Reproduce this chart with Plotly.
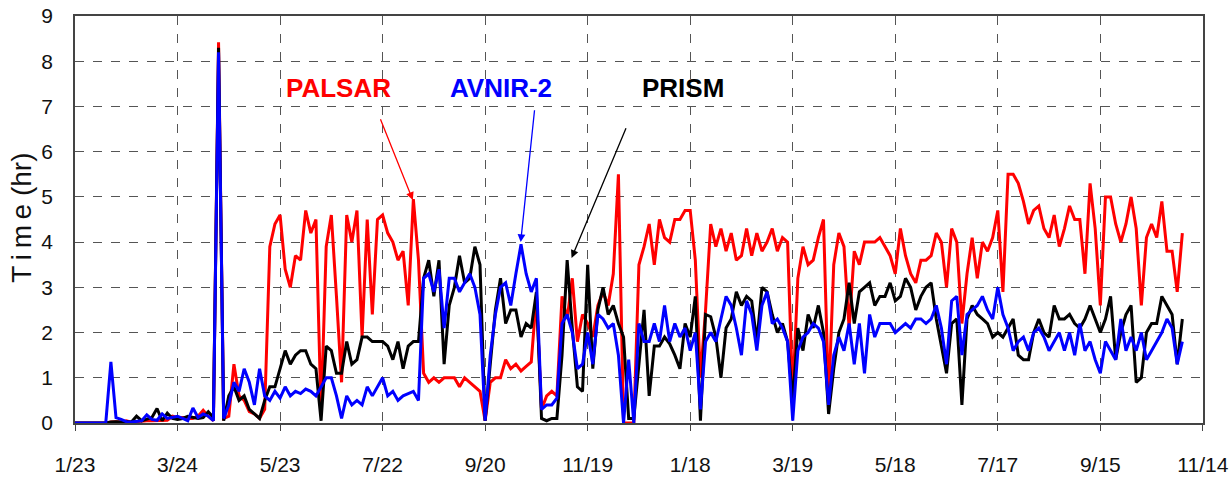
import pandas as pd
import plotly.graph_objects as go

# ---------------- data ----------------
start_date = pd.Timestamp("2006-01-23")
day_offsets = list(range(0, 649, 3))          # sampling days since 1/23/2006
dates = [start_date + pd.Timedelta(days=d) for d in day_offsets]

palsar = [
    0, 0, 0, 0, 0, 0, 0, 0.02, 0.03, 0.02,
    0.05, 0.02, 0.03, 0.05, 0.05, 0.05, 0.05, 0.05, 0.06, 0.15,
    0.12, 0.12, 0.1, 0.1, 0.15, 0.28, 0.15, 0.05, 8.42, 0.1,
    0.15, 1.3, 0.6, 0.5, 0.25, 0.2, 0.1, 0.3, 3.9, 4.4,
    4.6, 3.4, 3.0, 3.7, 3.6, 4.7, 4.2, 4.5, 0.2, 3.9,
    4.6, 2.8, 0.9, 4.6, 4.0, 4.7, 1.9, 4.5, 2.4, 4.5,
    4.6, 4.2, 4.0, 3.6, 3.8, 2.6, 4.95, 3.6, 1.1, 0.9,
    1.0, 0.9, 1.0, 1.0, 1.0, 0.8, 1.0, 0.9, 0.8, 0.7,
    0.05, 0.9, 1.0, 1.0, 1.4, 1.2, 1.3, 1.15, 1.25, 1.35,
    2.8, 0.3, 0.6, 0.7, 0.6, 2.8, 2.3, 3.2, 1.8, 2.4,
    2.2, 1.9, 2.6, 2.9, 2.6, 3.3, 5.5, 0.0, 0.0, 0.0,
    3.5, 3.9, 4.4, 3.5, 4.5, 4.1, 4.0, 4.5, 4.5, 4.7,
    4.7, 3.6, 1.0, 2.5, 4.4, 3.9, 4.3, 3.8, 4.2, 3.6,
    3.7, 4.3, 3.7, 4.2, 3.8, 4.0, 4.3, 3.8, 4.1, 4.0,
    0.6, 3.2, 3.9, 3.5, 3.6, 4.1, 4.5, 0.5, 3.5, 4.2,
    3.9, 2.1, 3.8, 3.5, 4.0, 4.0, 4.0, 4.1, 3.9, 3.7,
    3.3, 4.3, 3.7, 3.3, 3.1, 3.6, 3.6, 3.7, 4.2, 4.0,
    3.0, 4.3, 4.0, 2.2, 3.3, 4.1, 3.2, 4.0, 3.8, 4.1,
    4.7, 2.9, 5.5, 5.5, 5.3, 4.9, 4.4, 4.7, 4.8, 4.3,
    4.1, 4.6, 3.9, 4.3, 4.8, 4.5, 4.5, 3.3, 5.3, 4.3,
    2.6, 5.0, 5.0, 4.4, 4.0, 4.4, 5.0, 4.3, 2.6, 4.1,
    4.4, 4.1, 4.9, 3.8, 3.8, 2.9, 4.2,
]

prism = [
    0, 0, 0, 0, 0, 0, 0, 0.02, 0.03, 0.02,
    0.03, 0.02, 0.15, 0.05, 0.08, 0.12, 0.32, 0.05, 0.22, 0.1,
    0.08, 0.1, 0.15, 0.12, 0.1, 0.12, 0.25, 0.12, 8.3, 0.05,
    0.6, 0.8, 0.5, 0.6, 0.3, 0.2, 0.1, 0.5, 0.8, 0.8,
    1.2, 1.6, 1.3, 1.5, 1.6, 1.6, 1.3, 1.2, 0.05, 1.7,
    1.6, 1.1, 1.1, 1.8, 1.3, 1.4, 1.9, 1.9, 1.8, 1.8,
    1.8, 1.7, 1.4, 1.8, 1.2, 1.7, 1.8, 1.8, 3.2, 3.6,
    2.8, 3.6, 1.3, 2.6, 3.0, 3.7, 3.1, 3.2, 3.9, 3.5,
    0.05, 1.3, 2.5, 3.2, 2.2, 2.5, 2.5, 1.9, 2.2, 2.1,
    2.9, 0.1, 0.05, 0.1, 0.1, 1.5, 3.6, 2.1, 0.8, 0.7,
    3.5, 1.2, 2.5, 3.0, 2.4, 2.6, 2.2, 1.9, 0.1, 0.1,
    1.3, 2.5, 0.6, 1.7, 1.7, 1.9, 1.75, 1.5, 1.2, 2.2,
    1.9, 2.8, 0.05, 2.4, 2.35, 1.9, 1.0, 2.1, 2.3, 2.9,
    2.6, 2.8, 2.7, 1.8, 3.0, 2.9, 2.4, 2.0, 2.2, 1.8,
    0.5, 2.1, 1.6, 2.4, 2.1, 2.6, 2.0, 0.2, 1.2, 2.0,
    2.3, 3.1, 2.2, 2.9, 3.0, 3.1, 2.6, 2.8, 2.8, 3.1,
    2.7, 2.8, 3.2, 3.0, 2.5, 2.8, 3.0, 3.1, 2.3, 1.7,
    1.1, 2.2, 2.3, 0.4, 2.3, 2.6, 2.4, 2.3, 2.2, 1.9,
    2.0, 1.9, 2.1, 2.3, 1.5, 1.4, 1.4, 2.0, 2.3, 2.0,
    1.9, 2.6, 2.3, 2.3, 2.4, 2.2, 2.1, 2.3, 2.6, 2.3,
    2.0, 2.3, 2.8, 1.4, 2.0, 2.4, 2.6, 0.9, 1.0, 2.0,
    2.2, 2.2, 2.8, 2.6, 2.4, 1.3, 2.3,
]

avnir2 = [
    0, 0, 0, 0, 0, 0, 0, 1.35, 0.12, 0.08,
    0.03, 0.02, 0.03, 0.05, 0.18, 0.08, 0.06, 0.2, 0.1, 0.12,
    0.15, 0.1, 0.05, 0.33, 0.12, 0.2, 0.15, 0.05, 8.2, 0.1,
    0.4, 0.9, 0.7, 1.2, 0.9, 0.4, 1.2, 0.6, 0.5, 0.7,
    0.55, 0.8, 0.6, 0.7, 0.65, 0.75, 0.7, 0.6, 0.8, 1.0,
    1.0, 0.6, 0.1, 0.6, 0.4, 0.5, 0.4, 0.8, 0.6, 0.8,
    1.0, 0.6, 0.7, 0.5, 0.6, 0.65, 0.7, 0.5, 3.2, 3.3,
    2.9, 3.4, 2.1, 3.2, 3.2, 2.9, 3.1, 3.3, 3.0, 2.4,
    0.05, 1.5, 2.4, 3.0, 3.1, 2.6, 3.3, 3.95, 3.3, 2.9,
    3.2, 0.3, 0.4, 0.4, 0.55, 2.2, 2.4, 2.0, 1.2, 1.3,
    2.0, 1.3, 2.4, 2.3, 2.1, 2.2, 1.5, 0.0, 1.4, 0.0,
    2.2, 1.8, 1.8, 2.2, 1.8, 2.6, 1.8, 2.2, 1.9, 2.1,
    1.6, 2.0, 0.3, 1.8, 2.0, 1.8, 2.3, 2.8, 2.6, 2.1,
    1.5, 2.7, 2.4, 1.6, 2.6, 2.9, 2.2, 2.3, 2.1, 1.8,
    0.05, 1.6, 1.9, 2.0, 2.2, 2.1, 1.8, 0.4, 1.5, 1.9,
    1.6, 2.2, 1.3, 2.2, 1.1, 2.4, 1.9, 2.2, 2.2, 2.2,
    2.0, 2.1, 2.2, 2.1, 2.3, 2.3, 2.2, 2.3, 2.6, 2.1,
    1.3, 2.7, 2.8, 1.5, 2.4, 2.5, 2.6, 2.8, 2.5, 2.3,
    3.0, 2.4, 2.1, 1.6, 1.8, 1.9, 1.6, 2.0, 2.1, 1.9,
    1.6, 1.8, 2.0, 1.6, 2.0, 1.5, 2.2, 1.6, 1.8, 1.4,
    1.1, 1.8, 1.6, 1.4, 2.3, 1.6, 1.9, 1.6, 2.0, 1.4,
    1.6, 1.8, 2.0, 2.3, 2.1, 1.3, 1.8,
]

tick_dates = ["2006-01-23", "2006-03-24", "2006-05-23", "2006-07-22",
              "2006-09-20", "2006-11-19", "2007-01-18", "2007-03-19",
              "2007-05-18", "2007-07-17", "2007-09-15", "2007-11-14"]
tick_text = ["1/23", "3/24", "5/23", "7/22", "9/20", "11/19",
             "1/18", "3/19", "5/18", "7/17", "9/15", "11/14"]

series_names = ["PALSAR", "PRISM", "AVNIR-2"]
series_colors = ["#ff0000", "#000000", "#0000ff"]
series_values = [palsar, prism, avnir2]

# ---------------- figure ----------------
fig = go.Figure()
for name, color, vals in zip(series_names, series_colors, series_values):
    fig.add_trace(go.Scatter(x=dates, y=vals, mode="lines", name=name,
                             line=dict(color=color, width=3),
                             showlegend=False, cliponaxis=False))

def day(n):
    return start_date + pd.Timedelta(days=n)

label_font = "Liberation Sans, Arial"

# series labels
for text, color, d in [("PALSAR", "#ff0000", 154), ("AVNIR-2", "#0000ff", 249),
                       ("PRISM", "#000000", 355.5)]:
    fig.add_annotation(x=day(d), y=7.41, xref="x", yref="y", text=f"<b>{text}</b>",
                       showarrow=False, font=dict(family=label_font, size=26, color=color),
                       xanchor="center", yanchor="middle")

# arrows: (tip_day, tip_val, tail_day, tail_val, color)
for tdx, tv, adx, av, color in [(197.7, 4.93, 178.4, 6.75, "#ff0000"),
                                (260.8, 4.0, 269.0, 6.95, "#0000ff"),
                                (290.6, 3.65, 322.8, 6.55, "#000000")]:
    fig.add_annotation(x=day(tdx), y=tv, ax=day(adx), ay=av, xref="x", yref="y",
                       axref="x", ayref="y", text="", showarrow=True,
                       arrowhead=2, arrowsize=1.2, arrowwidth=1.3, arrowcolor=color,
                       standoff=0)

# y-axis title
fig.add_annotation(x=-0.047, y=0.504, xref="paper", yref="paper",
                   text="T\u2009i\u2009m\u2009e (hr)", textangle=-90, showarrow=False,
                   font=dict(family="Liberation Sans, Arial", size=28, color="#111111"),
                   xanchor="center", yanchor="middle")

fig.update_layout(
    width=1232, height=477,
    margin=dict(l=75, r=29, t=16, b=54, autoexpand=False),
    paper_bgcolor="white", plot_bgcolor="white",
    font=dict(family=label_font, size=21, color="#111111"),
)
fig.update_xaxes(
    range=["2006-01-23", "2007-11-14 02:00"],
    tickvals=tick_dates, ticktext=tick_text,
    showgrid=True, gridcolor="#555555", griddash="dash", gridwidth=1,
    showline=True, linecolor="#444444", linewidth=1.5, mirror=True,
    ticks="outside", ticklen=6, tickcolor="#444444",
    ticklabelstandoff=16, zeroline=False, automargin=False,
)
fig.update_yaxes(
    range=[0, 9], dtick=1, tick0=0,
    showgrid=True, gridcolor="#555555", griddash="dash", gridwidth=1,
    showline=True, linecolor="#444444", linewidth=1.5, mirror=True,
    ticks="", ticklabelstandoff=16, zeroline=False, automargin=False,
)

# remove the browser's default page margin so the figure fills the window
fig.write_html("out.html",
               config={"displayModeBar": False},
               post_script="document.body.style.margin='0px';"
                           "document.body.style.overflow='hidden';")
